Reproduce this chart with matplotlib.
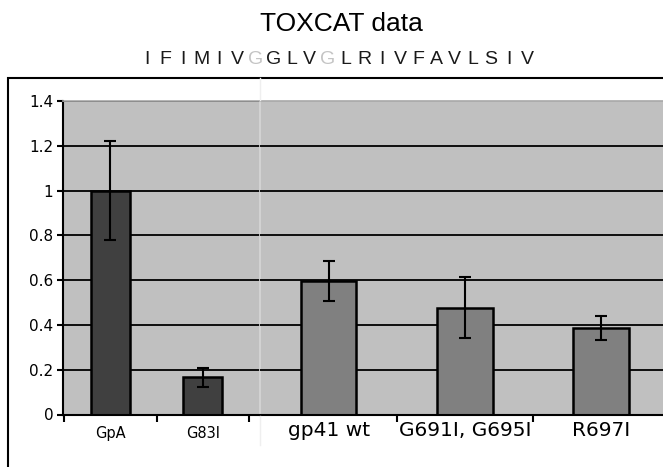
import matplotlib.pyplot as plt
from matplotlib.patches import Rectangle
from matplotlib.lines import Line2D

plt.rcParams['font.family'] = ['Liberation Sans', 'DejaVu Sans']

# --- data ---
left_labels = ["GpA", "G83I"]
left_values = [1.0, 0.166]
left_errors = [0.22, 0.042]

right_labels = ["gp41 wt", "G691I, G695I", "R697I"]
right_values = [0.595, 0.477, 0.385]
right_errors = [0.09, 0.135, 0.054]

sequence = "IFIMIVGGLVGLRIVFAVLSIV"
faded_positions = [6, 10]

W, H = 663, 467
fig = plt.figure(figsize=(W / 100, H / 100), dpi=100)


def fx(px):
    return px / W


def fy(py):
    return 1 - py / H


# outer frame (runs off the right and bottom edges)
fig.patches.append(Rectangle((fx(8), -0.2), 1.2, fy(77.7) + 0.2, transform=fig.transFigure,
                             fill=False, edgecolor="black", linewidth=1.5, clip_on=False))
# faint seam where the two panels were joined (outside the plot area)
for y_a, y_b in [(78, 100), (416, 445)]:
    fig.lines.append(Line2D([fx(260), fx(260)], [fy(y_a), fy(y_b)], transform=fig.transFigure,
                            color="#efefef", linewidth=1))

# title + sequence
fig.text(fx(341), fy(24), "TOXCAT data", ha="center", va="center", fontsize=19)
step = 18.1
x0 = 147
for i, ch in enumerate(sequence):
    col = "#c4c4c4" if i in faded_positions else "#1a1a1a"
    fig.text(fx(x0 + i * step), fy(60), ch, ha="center", va="center", fontsize=14, color=col)

bottom, top = 414.5, 101
ax_l = fig.add_axes([fx(63), fy(bottom), fx(260) - fx(63), (bottom - top) / H])
ax_r = fig.add_axes([fx(260), fy(bottom), fx(663) - fx(260), (bottom - top) / H])

for ax in (ax_l, ax_r):
    ax.set_facecolor("#c0c0c0")
    ax.set_ylim(0, 1.4)
    ax.set_yticks([0.2, 0.4, 0.6, 0.8, 1.0, 1.2])
    ax.yaxis.grid(True, color="black", linewidth=1.3)
    ax.set_axisbelow(True)
    ax.spines["top"].set_color("#a8a8a8")
    ax.spines["top"].set_linewidth(1.2)
    ax.spines["bottom"].set_linewidth(1.5)
    ax.spines["right"].set_visible(False)

# left panel
xl = range(len(left_labels))
ax_l.bar(xl, left_values, width=0.42, color="#404040", edgecolor="black", linewidth=1.8, zorder=2)
ax_l.errorbar(xl, left_values, yerr=left_errors, fmt="none", ecolor="black",
              elinewidth=1.5, capsize=4.5, capthick=1.5, zorder=3)
ax_l.set_xlim(-0.51, 1.616)
ax_l.set_xticks([-0.5, 0.5, 1.5])
ax_l.set_xticklabels([])
ax_l.set_xticks(list(xl), minor=True)
ax_l.set_xticklabels(left_labels, minor=True, fontsize=10.5, family="DejaVu Sans")
ax_l.tick_params(axis="x", which="major", direction="out", length=5, width=1.5)
ax_l.tick_params(axis="x", which="minor", length=0, pad=8)
ax_l.set_yticks([0, 0.2, 0.4, 0.6, 0.8, 1.0, 1.2, 1.4])
ax_l.set_yticklabels(["0", "0.2", "0.4", "0.6", "0.8", "1", "1.2", "1.4"],
                     fontsize=11, family="DejaVu Sans")
ax_l.tick_params(axis="y", direction="out", length=4, width=1.5, pad=3)
ax_l.spines["left"].set_linewidth(1.5)

# right panel
xr = range(len(right_labels))
ax_r.bar(xr, right_values, width=0.405, color="#808080", edgecolor="black", linewidth=1.8, zorder=2)
ax_r.errorbar(xr, right_values, yerr=right_errors, fmt="none", ecolor="black",
              elinewidth=1.5, capsize=4.5, capthick=1.5, zorder=3)
ax_r.set_xlim(-0.507, 2.456)
ax_r.set_xticks([0.5, 1.5])
ax_r.set_xticklabels([])
ax_r.set_xticks(list(xr), minor=True)
ax_r.set_xticklabels(right_labels, minor=True, fontsize=14.5, family="DejaVu Sans")
ax_r.tick_params(axis="x", which="major", direction="out", length=5, width=1.5)
ax_r.tick_params(axis="x", which="minor", length=0, pad=5)
ax_r.tick_params(axis="y", left=False, labelleft=False)
ax_r.spines["left"].set_visible(False)
# lighter seam inside the plot area, beneath the gridlines
ax_r.plot([0, 0], [0, 1], transform=ax_r.transAxes, color="#d6d6d6", linewidth=1.2,
          clip_on=False, zorder=0.4)

fig.savefig("out.png", dpi=100)
